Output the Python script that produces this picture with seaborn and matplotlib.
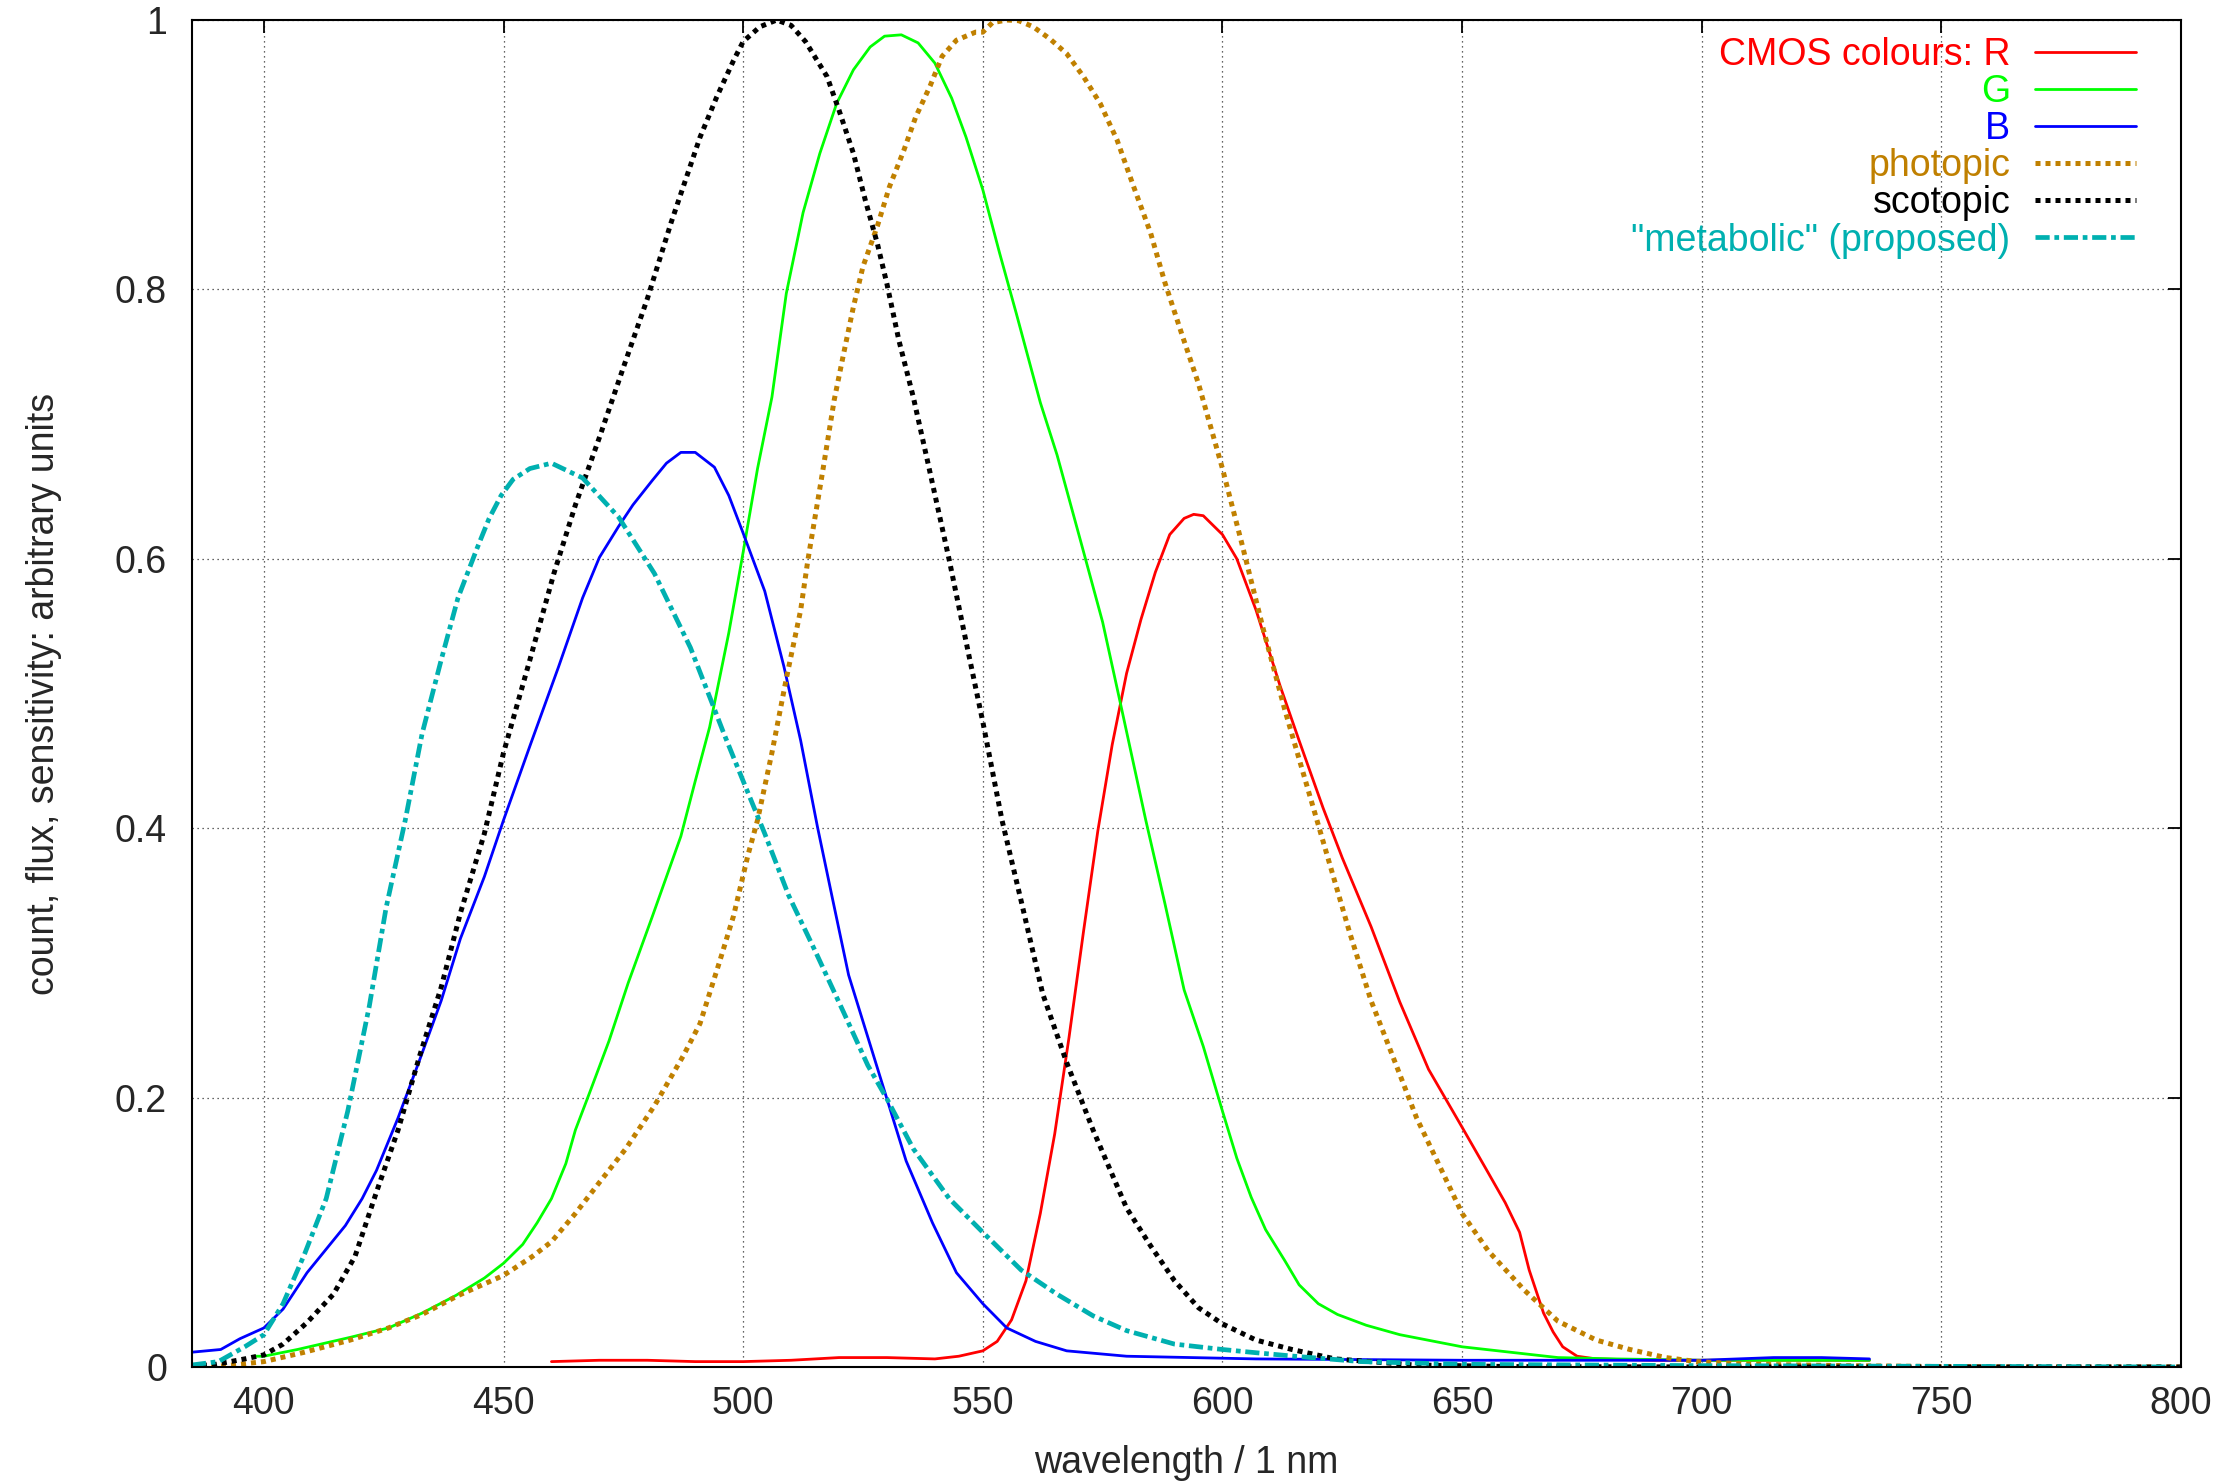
import matplotlib
matplotlib.use("Agg")
import matplotlib.pyplot as plt
from matplotlib.ticker import FormatStrFormatter
import seaborn as sns

# values (wavelength in nm, arbitrary units)
wl_r = [460, 470, 480, 490, 500, 510, 520, 530, 540, 545, 550, 553, 556, 559, 562, 565,
        568, 571, 574, 577, 580, 583, 586, 589, 592, 594, 596, 600, 603, 607, 612, 616,
        621, 625, 631, 637, 643, 650, 655, 659, 662, 664, 667, 669, 671, 674, 678, 690,
        700, 720, 735]
cmos_r = [0.004, 0.005, 0.005, 0.004, 0.004, 0.005, 0.007, 0.007, 0.006, 0.008, 0.012,
          0.019, 0.035, 0.064, 0.114, 0.173, 0.245, 0.323, 0.398, 0.462, 0.515, 0.555,
          0.590, 0.618, 0.630, 0.633, 0.632, 0.618, 0.600, 0.562, 0.506, 0.465, 0.415,
          0.378, 0.327, 0.271, 0.221, 0.178, 0.147, 0.122, 0.100, 0.072, 0.040, 0.026,
          0.015, 0.008, 0.006, 0.005, 0.005, 0.005, 0.005]

wl_g = [398, 400, 407, 418, 426, 433, 440, 446, 450, 454, 457, 460, 463, 465, 468, 472,
        476, 481, 487, 490, 493, 497, 500, 503, 506, 509, 512.5, 516, 519.5, 523, 526.5,
        529.5, 533, 536.5, 540, 543.5, 546.5, 550, 553.5, 557, 562, 565.5, 570.5, 575,
        579, 584, 588, 592, 596, 600, 603, 606, 609, 613, 616, 620, 624, 630, 637, 650,
        660, 670, 682, 700, 735]
cmos_g = [0.008, 0.008, 0.013, 0.022, 0.029, 0.040, 0.053, 0.066, 0.077, 0.091, 0.107,
          0.125, 0.151, 0.176, 0.204, 0.242, 0.285, 0.334, 0.394, 0.435, 0.475, 0.545,
          0.605, 0.667, 0.720, 0.797, 0.857, 0.901, 0.938, 0.963, 0.980, 0.988, 0.989,
          0.983, 0.968, 0.942, 0.913, 0.874, 0.827, 0.782, 0.716, 0.677, 0.612, 0.553,
          0.488, 0.406, 0.344, 0.280, 0.238, 0.190, 0.155, 0.126, 0.102, 0.079, 0.061,
          0.047, 0.039, 0.031, 0.024, 0.015, 0.011, 0.007, 0.006, 0.005, 0.005]

wl_b = [385, 391, 395, 400, 404, 409, 417, 420.5, 423.5, 428, 432.5, 437, 441, 446, 450,
        455.5, 461.5, 466.5, 470, 474, 477, 481, 484, 487, 490, 494, 497, 500, 504.5,
        508.5, 512, 515.5, 518.5, 522, 526, 530, 534, 539.5, 544.5, 550, 555, 561, 567.5,
        580, 607, 650, 700, 715, 725, 735]
cmos_b = [0.011, 0.013, 0.021, 0.029, 0.043, 0.070, 0.105, 0.125, 0.146, 0.185, 0.228,
          0.272, 0.318, 0.364, 0.406, 0.461, 0.520, 0.571, 0.601, 0.624, 0.640, 0.658,
          0.671, 0.679, 0.679, 0.668, 0.647, 0.619, 0.576, 0.520, 0.465, 0.401, 0.350,
          0.291, 0.245, 0.199, 0.153, 0.107, 0.070, 0.047, 0.029, 0.019, 0.012, 0.008,
          0.006, 0.005, 0.005, 0.007, 0.007, 0.006]

wl_p = [389, 395, 400, 408.5, 418, 426, 433, 440.5, 450, 456, 460, 465, 470, 475.5,
        481.5, 487.5, 491, 495, 498, 501, 503, 506, 509, 512, 513.5, 516.5, 519, 521,
        523, 525, 528, 530.5, 533.5, 536, 539, 541.5, 544.5, 548.5, 550, 552, 555, 557.5,
        560.5, 564, 567.5, 571, 574.5, 578, 581.5, 585, 588, 591.5, 595, 600, 604, 608.5,
        613, 617.5, 622, 626.5, 631, 635.5, 640.5, 646, 650, 655.5, 663, 670, 678, 685,
        692.5, 699, 710, 730, 760, 800]
photopic = [0.0, 0.002, 0.004, 0.011, 0.020, 0.029, 0.039, 0.053, 0.068, 0.082, 0.093,
            0.114, 0.137, 0.162, 0.194, 0.231, 0.255, 0.300, 0.335, 0.380, 0.406, 0.456,
            0.511, 0.562, 0.599, 0.663, 0.718, 0.753, 0.787, 0.817, 0.847, 0.876, 0.903,
            0.928, 0.951, 0.973, 0.985, 0.991, 0.991, 0.998, 1.0, 0.9995, 0.995, 0.986,
            0.975, 0.958, 0.938, 0.911, 0.876, 0.842, 0.805, 0.767, 0.730, 0.667, 0.612,
            0.548, 0.488, 0.433, 0.378, 0.323, 0.272, 0.231, 0.185, 0.144, 0.114, 0.086,
            0.057, 0.034, 0.020, 0.013, 0.007, 0.004, 0.002, 0.001, 0.0, 0.0]

wl_s = [385, 390, 396, 400, 404, 409, 414.5, 419, 423.5, 428, 432.5, 437, 441, 446, 450,
        455.5, 460.5, 465, 470, 475, 480, 485, 491, 494.5, 498, 500, 503.5, 507, 510,
        513, 517.5, 520, 523, 525.5, 528, 530, 532.5, 535.5, 538.5, 543, 547, 550, 554,
        558, 562.5, 567.5, 573, 580, 585, 590, 595, 600, 607, 614.5, 623.5, 640, 660,
        700, 800]
scotopic = [0.0005, 0.002, 0.006, 0.009, 0.017, 0.033, 0.054, 0.082, 0.130, 0.176, 0.231,
            0.282, 0.337, 0.396, 0.456, 0.525, 0.589, 0.640, 0.690, 0.742, 0.793, 0.850,
            0.913, 0.943, 0.970, 0.984, 0.995, 1.0, 0.996, 0.984, 0.958, 0.933, 0.901,
            0.866, 0.834, 0.804, 0.762, 0.720, 0.672, 0.599, 0.530, 0.479, 0.406, 0.346,
            0.277, 0.226, 0.176, 0.118, 0.090, 0.064, 0.044, 0.032, 0.020, 0.013, 0.006,
            0.0015, 0.0003, 0.0, 0.0]

wl_m = [385, 390.5, 396, 400, 404, 408.5, 413, 417.5, 422, 425.5, 429.5, 433, 437, 440.5,
        444.5, 447, 449.5, 452, 455.5, 460, 466.5, 474, 481.5, 489, 493.5, 496, 500, 504.5,
        509.5, 515, 521, 526, 530, 535.5, 543, 550, 558, 565.5, 573, 580, 590, 600, 607,
        615, 629, 650, 700, 800]
metabolic = [0.0015, 0.004, 0.015, 0.024, 0.047, 0.084, 0.125, 0.190, 0.268, 0.341, 0.406,
             0.470, 0.525, 0.571, 0.608, 0.630, 0.647, 0.659, 0.667, 0.671, 0.660, 0.631,
             0.589, 0.534, 0.493, 0.470, 0.435, 0.396, 0.350, 0.309, 0.263, 0.224, 0.199,
             0.162, 0.125, 0.100, 0.072, 0.054, 0.038, 0.027, 0.017, 0.013, 0.0106, 0.008,
             0.004, 0.002, 0.001, 0.0]

x_ticks = [400, 450, 500, 550, 600, 650, 700, 750, 800]
y_ticks = [0, 0.2, 0.4, 0.6, 0.8, 1]

sns.set_theme(style="white")
plt.rcParams["font.family"] = ["Liberation Sans", "DejaVu Sans"]
plt.rcParams["font.size"] = 27

fig = plt.figure(figsize=(22.28, 14.83), dpi=100)
ax = fig.add_axes([192 / 2228, 1 - 1367 / 1483, 1989 / 2228, 1347 / 1483])

dot = (0, (1, 1))
dashdot = (0, (3, 1, 1, 1))
series = [
    (wl_r, cmos_r, "CMOS colours: R", "#ff0000", 2.0, "-"),
    (wl_g, cmos_g, "G", "#00ff00", 2.0, "-"),
    (wl_b, cmos_b, "B", "#0000ff", 2.0, "-"),
    (wl_p, photopic, "photopic", "#c08000", 3.6, dot),
    (wl_s, scotopic, "scotopic", "#000000", 3.6, dot),
    (wl_m, metabolic, '"metabolic" (proposed)', "#00b0b0", 3.4, dashdot),
]
for xs, ys, lab, col, lw, ls in series:
    sns.lineplot(x=xs, y=ys, ax=ax, color=col, lw=lw, linestyle=ls, label=lab,
                 estimator=None, sort=False)

ax.set_xlim(385, 800)
ax.set_ylim(0, 1)
ax.set_xticks(x_ticks)
ax.set_yticks(y_ticks)
ax.yaxis.set_major_formatter(FormatStrFormatter("%g"))
ax.tick_params(axis="both", direction="in", length=9.5, width=1.3, color="black",
               top=True, right=True, labelsize=27)
ax.tick_params(axis="x", pad=14)
ax.tick_params(axis="y", pad=18)
ax.grid(True, color="0.2", lw=0.9, linestyle=(0, (1, 3)))
for sp in ax.spines.values():
    sp.set_color("black")
    sp.set_linewidth(1.5)

ax.set_xlabel("wavelength / 1 nm", fontsize=27, labelpad=16)
ax.set_ylabel("count, flux, sensitivity: arbitrary units", fontsize=27, labelpad=38)

leg = ax.legend(loc="upper right", bbox_to_anchor=(1 - 45 / 1989, 1 - 17 / 1347),
                markerfirst=False, frameon=False, labelcolor="linecolor",
                fontsize=27, handlelength=2.7, handletextpad=0.65,
                labelspacing=0.03, borderpad=0, borderaxespad=0)

fig.savefig("out.png", dpi=100)
